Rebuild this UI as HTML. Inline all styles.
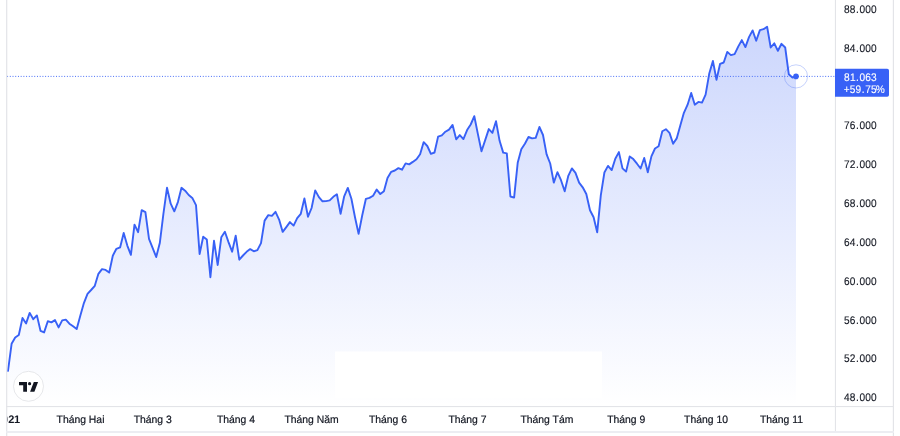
<!DOCTYPE html>
<html lang="vi">
<head>
<meta charset="utf-8">
<title>Chart</title>
<style>
html,body{margin:0;padding:0;background:#fff;}
body{width:900px;height:436px;overflow:hidden;position:relative;font-family:"Liberation Sans",sans-serif;}
svg{position:absolute;left:0;top:0;display:block;}
text{font-family:"Liberation Sans",sans-serif;text-rendering:geometricPrecision;}
</style>
</head>
<body>
<svg width="900" height="436" viewBox="0 0 900 436">
<defs>
<linearGradient id="ag" x1="0" y1="0" x2="0" y2="406" gradientUnits="userSpaceOnUse">
<stop offset="0" stop-color="#3861f6" stop-opacity="0.275"/>
<stop offset="1" stop-color="#3861f6" stop-opacity="0"/>
</linearGradient>
<clipPath id="cp"><rect x="7" y="0" width="828" height="406"/></clipPath>
<clipPath id="cp2"><rect x="7.3" y="407" width="60" height="24"/></clipPath>
</defs>
<rect x="0" y="0" width="900" height="436" fill="#ffffff"/>
<g clip-path="url(#cp)">
<path d="M8.0,371.0 L11.6,343.8 L15.2,337.5 L18.8,335.0 L22.5,317.9 L26.1,323.4 L29.7,312.9 L33.3,319.2 L36.9,315.4 L40.5,330.8 L44.1,332.4 L47.8,321.2 L51.4,322.4 L55.0,320.1 L58.6,327.4 L62.2,320.4 L65.8,319.6 L69.4,323.7 L73.1,326.3 L76.7,329.1 L80.3,315.8 L83.9,303.1 L87.5,293.9 L91.1,290.0 L94.8,285.8 L98.4,273.8 L102.0,269.1 L105.6,269.9 L109.2,272.6 L112.8,255.7 L116.4,248.8 L120.1,247.4 L123.7,233.0 L127.3,245.6 L130.9,254.8 L134.5,224.7 L138.1,232.2 L141.7,210.1 L145.4,212.1 L149.0,238.9 L152.6,247.8 L156.2,257.0 L159.8,243.1 L163.4,213.8 L167.0,187.8 L170.7,203.7 L174.3,211.3 L177.9,202.1 L181.5,187.8 L185.1,190.7 L188.7,195.0 L192.3,197.9 L196.0,205.1 L199.6,254.0 L203.2,236.8 L206.8,239.4 L210.4,277.2 L214.0,240.8 L217.7,265.0 L221.3,237.3 L224.9,231.8 L228.5,242.1 L232.1,251.7 L235.7,235.6 L239.3,259.7 L243.0,255.5 L246.6,251.8 L250.2,249.1 L253.8,251.3 L257.4,250.1 L261.0,243.1 L264.6,220.6 L268.3,215.1 L271.9,215.9 L275.5,211.8 L279.1,219.6 L282.7,231.9 L286.3,227.1 L289.9,222.1 L293.6,225.6 L297.2,218.1 L300.8,213.8 L304.4,198.4 L308.0,216.7 L311.6,208.0 L315.2,190.4 L318.9,197.1 L322.5,201.3 L326.1,201.1 L329.7,200.4 L333.3,196.8 L336.9,194.2 L340.6,213.8 L344.2,196.3 L347.8,187.9 L351.4,198.8 L355.0,217.2 L358.6,233.9 L362.2,215.5 L365.9,198.8 L369.5,197.9 L373.1,195.7 L376.7,189.6 L380.3,194.1 L383.9,191.2 L387.5,177.9 L391.2,171.8 L394.8,170.5 L398.4,168.1 L402.0,169.7 L405.6,163.4 L409.2,164.4 L412.8,161.9 L416.5,159.2 L420.1,154.2 L423.7,142.1 L427.3,146.0 L430.9,153.8 L434.5,152.5 L438.1,136.6 L441.8,135.4 L445.4,131.7 L449.0,129.6 L452.6,124.9 L456.2,139.3 L459.8,135.1 L463.4,139.1 L467.1,130.1 L470.7,124.5 L474.3,116.2 L477.9,134.1 L481.5,151.3 L485.1,140.4 L488.8,129.1 L492.4,132.9 L496.0,121.2 L499.6,140.8 L503.2,152.6 L506.8,153.4 L510.4,196.5 L514.1,197.6 L517.7,162.8 L521.3,149.2 L524.9,143.7 L528.5,137.0 L532.1,138.4 L535.7,137.9 L539.4,127.0 L543.0,135.0 L546.6,154.3 L550.2,163.5 L553.8,182.6 L557.4,172.2 L561.0,180.2 L564.7,191.3 L568.3,175.8 L571.9,168.4 L575.5,172.9 L579.1,182.6 L582.7,187.3 L586.3,194.0 L590.0,210.2 L593.6,217.2 L597.2,232.3 L600.8,195.4 L604.4,172.5 L608.0,165.9 L611.7,170.1 L615.3,158.8 L618.9,152.1 L622.5,168.4 L626.1,171.6 L629.7,156.5 L633.3,159.1 L637.0,163.7 L640.6,168.5 L644.2,158.0 L647.8,172.3 L651.4,156.4 L655.0,148.5 L658.6,146.3 L662.3,131.3 L665.9,129.2 L669.5,132.9 L673.1,143.8 L676.7,138.4 L680.3,125.4 L683.9,112.8 L687.6,104.7 L691.2,93.0 L694.8,104.7 L698.4,101.9 L702.0,102.6 L705.6,94.7 L709.2,73.8 L712.9,60.9 L716.5,79.7 L720.1,63.8 L723.7,62.5 L727.3,51.9 L730.9,55.1 L734.6,54.2 L738.2,46.6 L741.8,40.1 L745.4,47.1 L749.0,37.1 L752.6,30.4 L756.2,40.8 L759.9,30.1 L763.5,29.2 L767.1,26.7 L770.7,47.5 L774.3,43.3 L777.9,50.8 L781.5,43.8 L785.2,47.5 L788.8,74.3 L792.4,77.5 L796.0,76.5 L796.0,406 L8.0,406 Z" fill="url(#ag)" stroke="none"/>
<rect x="335" y="351.5" width="267" height="46" fill="#ffffff"/>
<line x1="7.1" y1="76.4" x2="835" y2="76.4" stroke="#3861f6" stroke-width="1" stroke-dasharray="0.95 1.768" opacity="0.95"/>
<path d="M8.0,371.0 L11.6,343.8 L15.2,337.5 L18.8,335.0 L22.5,317.9 L26.1,323.4 L29.7,312.9 L33.3,319.2 L36.9,315.4 L40.5,330.8 L44.1,332.4 L47.8,321.2 L51.4,322.4 L55.0,320.1 L58.6,327.4 L62.2,320.4 L65.8,319.6 L69.4,323.7 L73.1,326.3 L76.7,329.1 L80.3,315.8 L83.9,303.1 L87.5,293.9 L91.1,290.0 L94.8,285.8 L98.4,273.8 L102.0,269.1 L105.6,269.9 L109.2,272.6 L112.8,255.7 L116.4,248.8 L120.1,247.4 L123.7,233.0 L127.3,245.6 L130.9,254.8 L134.5,224.7 L138.1,232.2 L141.7,210.1 L145.4,212.1 L149.0,238.9 L152.6,247.8 L156.2,257.0 L159.8,243.1 L163.4,213.8 L167.0,187.8 L170.7,203.7 L174.3,211.3 L177.9,202.1 L181.5,187.8 L185.1,190.7 L188.7,195.0 L192.3,197.9 L196.0,205.1 L199.6,254.0 L203.2,236.8 L206.8,239.4 L210.4,277.2 L214.0,240.8 L217.7,265.0 L221.3,237.3 L224.9,231.8 L228.5,242.1 L232.1,251.7 L235.7,235.6 L239.3,259.7 L243.0,255.5 L246.6,251.8 L250.2,249.1 L253.8,251.3 L257.4,250.1 L261.0,243.1 L264.6,220.6 L268.3,215.1 L271.9,215.9 L275.5,211.8 L279.1,219.6 L282.7,231.9 L286.3,227.1 L289.9,222.1 L293.6,225.6 L297.2,218.1 L300.8,213.8 L304.4,198.4 L308.0,216.7 L311.6,208.0 L315.2,190.4 L318.9,197.1 L322.5,201.3 L326.1,201.1 L329.7,200.4 L333.3,196.8 L336.9,194.2 L340.6,213.8 L344.2,196.3 L347.8,187.9 L351.4,198.8 L355.0,217.2 L358.6,233.9 L362.2,215.5 L365.9,198.8 L369.5,197.9 L373.1,195.7 L376.7,189.6 L380.3,194.1 L383.9,191.2 L387.5,177.9 L391.2,171.8 L394.8,170.5 L398.4,168.1 L402.0,169.7 L405.6,163.4 L409.2,164.4 L412.8,161.9 L416.5,159.2 L420.1,154.2 L423.7,142.1 L427.3,146.0 L430.9,153.8 L434.5,152.5 L438.1,136.6 L441.8,135.4 L445.4,131.7 L449.0,129.6 L452.6,124.9 L456.2,139.3 L459.8,135.1 L463.4,139.1 L467.1,130.1 L470.7,124.5 L474.3,116.2 L477.9,134.1 L481.5,151.3 L485.1,140.4 L488.8,129.1 L492.4,132.9 L496.0,121.2 L499.6,140.8 L503.2,152.6 L506.8,153.4 L510.4,196.5 L514.1,197.6 L517.7,162.8 L521.3,149.2 L524.9,143.7 L528.5,137.0 L532.1,138.4 L535.7,137.9 L539.4,127.0 L543.0,135.0 L546.6,154.3 L550.2,163.5 L553.8,182.6 L557.4,172.2 L561.0,180.2 L564.7,191.3 L568.3,175.8 L571.9,168.4 L575.5,172.9 L579.1,182.6 L582.7,187.3 L586.3,194.0 L590.0,210.2 L593.6,217.2 L597.2,232.3 L600.8,195.4 L604.4,172.5 L608.0,165.9 L611.7,170.1 L615.3,158.8 L618.9,152.1 L622.5,168.4 L626.1,171.6 L629.7,156.5 L633.3,159.1 L637.0,163.7 L640.6,168.5 L644.2,158.0 L647.8,172.3 L651.4,156.4 L655.0,148.5 L658.6,146.3 L662.3,131.3 L665.9,129.2 L669.5,132.9 L673.1,143.8 L676.7,138.4 L680.3,125.4 L683.9,112.8 L687.6,104.7 L691.2,93.0 L694.8,104.7 L698.4,101.9 L702.0,102.6 L705.6,94.7 L709.2,73.8 L712.9,60.9 L716.5,79.7 L720.1,63.8 L723.7,62.5 L727.3,51.9 L730.9,55.1 L734.6,54.2 L738.2,46.6 L741.8,40.1 L745.4,47.1 L749.0,37.1 L752.6,30.4 L756.2,40.8 L759.9,30.1 L763.5,29.2 L767.1,26.7 L770.7,47.5 L774.3,43.3 L777.9,50.8 L781.5,43.8 L785.2,47.5 L788.8,74.3 L792.4,77.5 L796.0,76.5" fill="none" stroke="#3861f6" stroke-width="1.9" stroke-linejoin="round" stroke-linecap="round"/>
<circle cx="796" cy="76.4" r="11.6" fill="none" stroke="#3861f6" stroke-opacity="0.32" stroke-width="0.9"/>
<circle cx="796" cy="76.4" r="2.8" fill="#3861f6"/>
</g>
<!-- borders -->
<rect x="6.1" y="0" width="1.2" height="436" fill="#e3e4e8"/>
<rect x="834.9" y="0" width="1.1" height="432" fill="#e3e4e8"/>
<rect x="892.8" y="0" width="1.2" height="436" fill="#e3e4e8"/>
<rect x="6.1" y="406" width="887.9" height="1.1" fill="#e3e4e8"/>
<rect x="6.1" y="431" width="887.9" height="2" fill="#ecedf2"/>
<!-- logo -->
<circle cx="28.5" cy="386.3" r="15" fill="#ffffff" stroke="#e3e4e8" stroke-width="0.9"/>
<g fill="#131722">
<path d="M19,382 H27 V391.8 H23.2 V385.3 H19 Z"/>
<circle cx="29.6" cy="383.7" r="1.6"/>
<path d="M33.8,382 H38.1 L34.4,391.8 H30.1 Z"/>
</g>
<!-- price scale -->
<g font-size="11.0px" fill="#131722" stroke="#131722" stroke-width="0.12" text-anchor="middle" transform="scale(0.92,1)">
<text x="920.51 926.75 931.99 937.23 943.47 949.71" y="12.95">88.000</text>
<text x="920.51 926.75 931.99 937.23 943.47 949.71" y="51.78">84.000</text>
<text x="920.51 926.75 931.99 937.23 943.47 949.71" y="129.44">76.000</text>
<text x="920.51 926.75 931.99 937.23 943.47 949.71" y="168.27">72.000</text>
<text x="920.51 926.75 931.99 937.23 943.47 949.71" y="207.10">68.000</text>
<text x="920.51 926.75 931.99 937.23 943.47 949.71" y="245.93">64.000</text>
<text x="920.51 926.75 931.99 937.23 943.47 949.71" y="284.76">60.000</text>
<text x="920.51 926.75 931.99 937.23 943.47 949.71" y="323.59">56.000</text>
<text x="920.51 926.75 931.99 937.23 943.47 949.71" y="362.42">52.000</text>
<text x="920.51 926.75 931.99 937.23 943.47 949.71" y="401.00">48.000</text>
</g>
<path d="M835,68.8 H887.2 a1.8,1.8 0 0 1 1.8,1.8 V94.9 a1.8,1.8 0 0 1 -1.8,1.8 H835 Z" fill="#3861f6"/>
<g font-size="11.0px" fill="#ffffff" stroke="#ffffff" stroke-width="0.12" text-anchor="middle" transform="scale(0.92,1)">
<text x="920.51 927.08 931.99 937.23 943.47 949.71" y="80.70">81.063</text>
<text x="920.24 926.75 932.99 938.23 943.47 949.71 956.83" y="93.10">+59.75%</text>
</g>
<!-- time scale -->
<g font-size="10.6px" fill="#131722" stroke="#131722" stroke-width="0.2" text-anchor="middle" transform="scale(0.98,1)">
<text x="82.14" y="423">Tháng Hai</text>
<text x="155.87" y="423">Tháng 3</text>
<text x="240.82" y="423">Tháng 4</text>
<text x="317.96" y="423">Tháng Năm</text>
<text x="395.92" y="423">Tháng 6</text>
<text x="477.04" y="423">Tháng 7</text>
<text x="558.06" y="423">Tháng Tám</text>
<text x="639.03" y="423">Tháng 9</text>
<text x="720.41" y="423">Tháng 10</text>
<text x="797.45" y="423">Tháng 11</text>
</g>
<g clip-path="url(#cp2)"><text x="-1.45 4.95 11.35 17.1" y="423" text-anchor="middle" font-size="11px" font-weight="bold" fill="#131722">2021</text></g>
</svg>
</body>
</html>
